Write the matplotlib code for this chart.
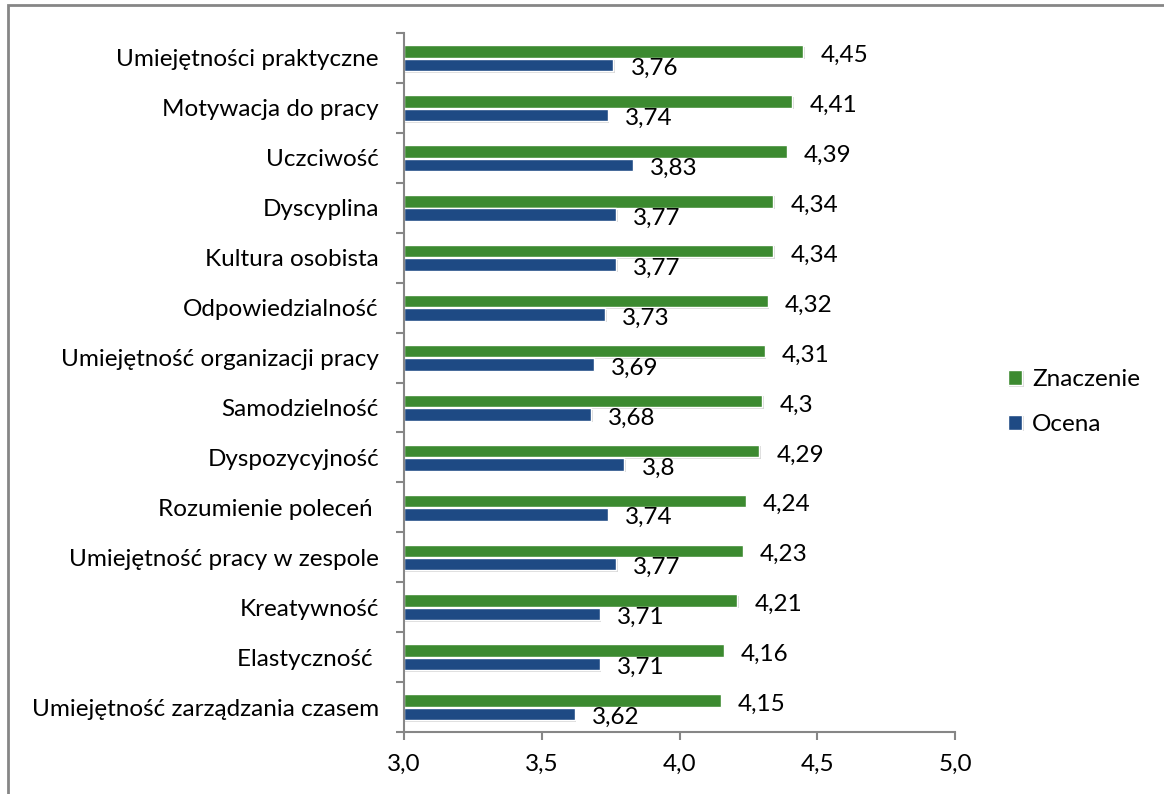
import numpy as np
import matplotlib
matplotlib.use("Agg")
import matplotlib.pyplot as plt
import matplotlib.patheffects as pe
from matplotlib.patches import Rectangle

categories = [
    "Umiejętności praktyczne",
    "Motywacja do pracy",
    "Uczciwość",
    "Dyscyplina",
    "Kultura osobista",
    "Odpowiedzialność",
    "Umiejętność organizacji pracy",
    "Samodzielność",
    "Dyspozycyjność",
    "Rozumienie poleceń ",
    "Umiejętność pracy w zespole",
    "Kreatywność",
    "Elastyczność ",
    "Umiejętność zarządzania czasem",
]
znaczenie = [4.45, 4.41, 4.39, 4.34, 4.34, 4.32, 4.31, 4.30, 4.29, 4.24, 4.23, 4.21, 4.16, 4.15]
ocena = [3.76, 3.74, 3.83, 3.77, 3.77, 3.73, 3.69, 3.68, 3.80, 3.74, 3.77, 3.71, 3.71, 3.62]
xticks = [3.0, 3.5, 4.0, 4.5, 5.0]

green = "#3C8A30"
blue = "#1E4A84"
axis_grey = "#868686"

plt.rcParams["font.family"] = ["Lato", "DejaVu Sans"]
fs = 17.5

fig = plt.figure(figsize=(11.64, 7.94), dpi=100)
ax = fig.add_axes([404 / 1164, 1 - 732 / 794, 551 / 1164, 699 / 794])

# outer frame (only left and top visible in the reference)
fig.patches.append(Rectangle((8 / 1164, -0.05), 1.2, 1 - 4.5 / 794 + 0.05,
                             transform=fig.transFigure, fill=False,
                             edgecolor=axis_grey, linewidth=2))

y = np.arange(len(categories))
h = 0.25
shadow = [pe.SimplePatchShadow(offset=(1.0, -1.0), shadow_rgbFace="#a0a0a0", alpha=0.4), pe.Normal()]
b1 = ax.barh(y - 0.13, np.array(znaczenie) - 3.0, left=3.0, height=h, color=green,
             edgecolor="white", linewidth=1, label="Znaczenie")
b2 = ax.barh(y + 0.14, np.array(ocena) - 3.0, left=3.0, height=h, color=blue,
             edgecolor="white", linewidth=1, label="Ocena")
for p in list(b1) + list(b2):
    p.set_path_effects(shadow)

def fmt(v):
    s = f"{v:.2f}".rstrip("0").rstrip(".")
    return s.replace(".", ",")

for i in range(len(categories)):
    ax.text(znaczenie[i] + 0.062, y[i] + 0.08, fmt(znaczenie[i]), fontsize=fs,
            va="baseline", ha="left")
    ax.text(ocena[i] + 0.062, y[i] + 0.34, fmt(ocena[i]), fontsize=fs,
            va="baseline", ha="left")

ax.set_xlim(3.0, 5.0)
ax.set_ylim(len(categories) - 0.5, -0.5)
ax.set_xticks(xticks)
ax.set_xticklabels([f"{t:.1f}".replace(".", ",") for t in xticks], fontsize=fs)
ax.set_yticks(np.arange(len(categories) + 1) - 0.5)
ax.set_yticklabels([])
ax.set_yticks(y, minor=True)
ax.set_yticklabels(categories, minor=True, fontsize=fs)
ax.tick_params(axis="y", which="minor", length=0, pad=18)
ax.tick_params(axis="y", which="major", length=6, width=1.5, color=axis_grey)
ax.tick_params(axis="x", length=6, width=1.5, color=axis_grey, pad=10)

for s in ["top", "right"]:
    ax.spines[s].set_visible(False)
for s in ["left", "bottom"]:
    ax.spines[s].set_color(axis_grey)
    ax.spines[s].set_linewidth(1.5)

ax.legend(handles=[b1, b2], loc="center left", bbox_to_anchor=(986 / 1164, 1 - 402 / 794),
          bbox_transform=fig.transFigure, frameon=False, fontsize=fs,
          handlelength=0.6, handleheight=0.6, handletextpad=0.4, labelspacing=0.98)

fig.savefig("out.png", dpi=100)
